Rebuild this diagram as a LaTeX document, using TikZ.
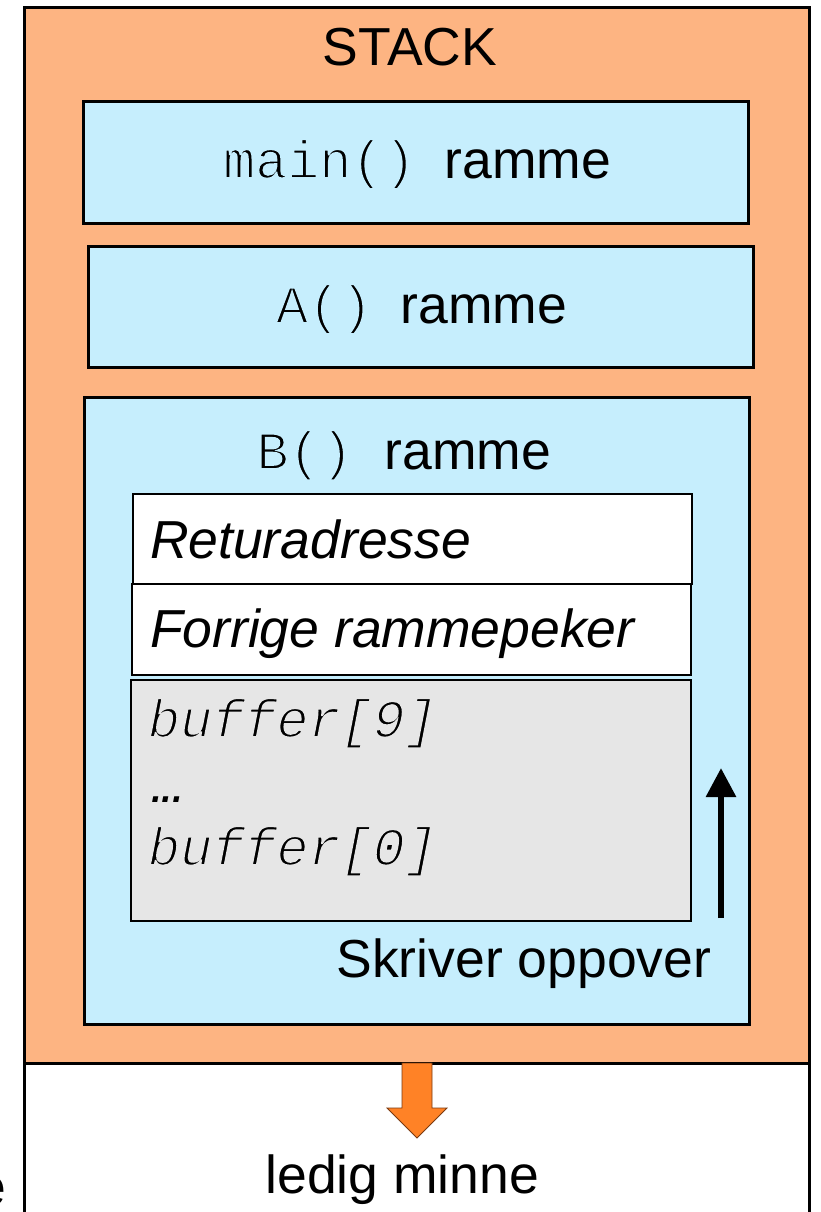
\documentclass[tikz,border=0pt]{standalone}
\usepackage{fontspec}
\setmainfont{Liberation Sans}
\setmonofont{Liberation Mono}
\usetikzlibrary{arrows.meta}
\definecolor{stackorange}{HTML}{FDB482}
\definecolor{framebl}{HTML}{C6EEFD}
\definecolor{bufgrey}{HTML}{E6E6E6}
\definecolor{arroworange}{HTML}{FF8226}
\definecolor{arrowedge}{HTML}{7A3A10}
% thin the monospaced glyphs by stroking their outlines in the background colour
\newcommand\thintt[2]{\special{pdf:literal direct q 2 Tr 1.7 w #1 RG}#2\special{pdf:literal direct Q}}
\begin{document}
\begin{tikzpicture}[x=1pt,y=-1pt,
  bigbox/.style={draw=black,line width=3pt,anchor=north west,inner sep=0pt,outer sep=0pt},
  slotbox/.style={draw=black,line width=1.5pt,anchor=north west,inner sep=0pt,outer sep=0pt},
  lbl/.style={anchor=base west,inner sep=0pt,outer sep=0pt,font=\fontsize{53.5}{60}\selectfont},
  clbl/.style={anchor=base,inner sep=0pt,outer sep=0pt,font=\fontsize{53.5}{60}\selectfont}]
\useasboundingbox (0,0) rectangle (821,1212);
\clip (0,0) rectangle (821,1212);
% stack and free memory
\node[bigbox,fill=stackorange,minimum width=785pt,minimum height=1055pt] (stack) at (24,8) {};
\node[bigbox,fill=white,minimum width=785pt,minimum height=200pt] (free) at (24,1063) {};
% frames
\node[bigbox,fill=framebl,minimum width=665pt,minimum height=121pt] (mainf) at (83,102) {};
\node[bigbox,fill=framebl,minimum width=665pt,minimum height=121pt] (af) at (88,246) {};
\node[bigbox,fill=framebl,minimum width=665pt,minimum height=627pt] (bf) at (84,397) {};
% slots in B frame
\node[slotbox,fill=white,minimum width=559pt,minimum height=90pt] (ret) at (133,494) {};
\node[slotbox,fill=white,minimum width=559pt,minimum height=91pt] (prev) at (132,584) {};
\node[slotbox,fill=bufgrey,minimum width=560pt,minimum height=241pt] (buf) at (131,680) {};
% texts
\node[clbl] (stacktxt) at (410,66) {STACK};
\node[lbl] (maintxt) at (223,178) {\thintt{0.776 0.933 0.992}{\ttfamily main()}\hspace{29pt}\rmfamily ramme};
\node[lbl] (atxt) at (276,323) {\thintt{0.776 0.933 0.992}{\ttfamily A()}\hspace{28.5pt}\rmfamily ramme};
\node[lbl] (btxt) at (256.5,469) {\thintt{0.776 0.933 0.992}{\ttfamily B()}\hspace{32pt}\rmfamily ramme};
\node[lbl] (rettxt) at (150,558) {\itshape Returadresse};
\node[lbl] (prevtxt) at (150,647) {\itshape Forrige rammepeker};
\node[lbl] (buf9) at (148,737) {\thintt{0.902 0.902 0.902}{\ttfamily\itshape buffer[9]}};
\node[lbl] (dots) at (150,802) {\itshape .\kern-4pt.\kern-4pt.};
\node[lbl] (buf0) at (148,865) {\thintt{0.902 0.902 0.902}{\ttfamily\itshape buffer[0]}};
\node[lbl] (skriv) at (336.5,977) {Skriver oppover};
\node[lbl] (ledig) at (265.5,1193) {ledig minne};
\node[lbl] (cut) at (-23.5,1205) {e};
% write direction arrow
\coordinate (wbot) at (721,918);
\coordinate (wtop) at (721,768);
\draw[line width=6pt,-{Triangle[length=29pt,width=29pt]}] (wbot) -- (wtop);
% growth arrow
\draw[fill=arroworange,draw=arrowedge,line width=0.8pt,line join=miter]
  (402,1063) -- (432,1063) -- (432,1108) -- (447,1108) -- (417,1138) -- (387,1108) -- (402,1108) -- cycle;
\end{tikzpicture}
\end{document}
